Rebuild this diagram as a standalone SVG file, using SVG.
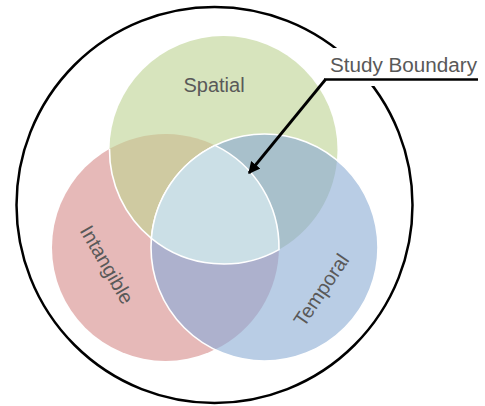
<svg xmlns="http://www.w3.org/2000/svg" width="485" height="406" viewBox="0 0 485 406">
<style>
.lbl{font-family:"Liberation Sans",Arial,sans-serif;font-size:20px;fill:#595959}
.ws{fill:none;stroke:#ffffff;stroke-width:1.6}
</style>
<defs>
<marker id="ah" viewBox="0 0 10 10" refX="9" refY="5" markerWidth="4.2" markerHeight="4.2" orient="auto" markerUnits="strokeWidth">
<path d="M0,0 L10,5 L0,10 z" fill="#000"/>
</marker>
</defs>
<rect width="485" height="406" fill="#fff"/>
<g id="boundary">
<circle cx="214.5" cy="205" r="198" fill="none" stroke="#000" stroke-width="2.5"/>
</g>
<g id="intangible">
<circle cx="165.5" cy="247.5" r="113.5" fill="#e6b9b8"/>
</g>
<g id="spatial">
<circle cx="223.5" cy="150" r="114" fill="#d7e4bd"/>
</g>
<g id="temporal">
<circle cx="264.5" cy="247.5" r="113.5" fill="#b9cde5"/>
</g>
<g id="overlaps">
<path d="M109.5,148.8 A113.5,113.5 0 0 1 279,249.6 A114,114 0 0 1 109.5,148.8 Z" fill="#cfcaa1"/>
<path d="M337,160.2 A113.5,113.5 0 0 0 151.4,238.3 A114,114 0 0 0 337,160.2 Z" fill="#a8c0cb"/>
<path d="M215,145.4 A113.5,113.5 0 0 1 215,349.6 A113.5,113.5 0 0 1 215,145.4 Z" fill="#adb1cd"/>
<circle class="ws" cx="264.5" cy="247.5" r="113.5"/>
<path class="ws" d="M109.5,148.8 A114,114 0 0 0 151.4,238.3"/>
</g>
<g id="study-area">
<path d="M215,145.4 A113.5,113.5 0 0 0 151.4,238.3 A114,114 0 0 0 279,249.6 A113.5,113.5 0 0 0 215,145.4 Z" fill="#cbdfe6" stroke="#fff" stroke-width="1.6"/>
</g>
<g id="labels">
<text class="lbl" x="214" y="92" text-anchor="middle">Spatial</text>
<text class="lbl" transform="translate(101,268) rotate(60)" text-anchor="middle">Intangible</text>
<text class="lbl" transform="translate(327,294) rotate(-56)" text-anchor="middle">Temporal</text>
</g>
<g id="study-boundary-label">
<rect x="331" y="48" width="154" height="38" fill="#fff"/>
<text class="lbl" x="330" y="72" textLength="147" lengthAdjust="spacingAndGlyphs">Study Boundary</text>
</g>
<g id="connectors">
<line x1="324" y1="79.5" x2="478" y2="79.5" stroke="#000" stroke-width="2.5"/>
<line x1="325.5" y1="79.5" x2="249" y2="173" stroke="#000" stroke-width="2.8" marker-end="url(#ah)"/>
</g>
</svg>
